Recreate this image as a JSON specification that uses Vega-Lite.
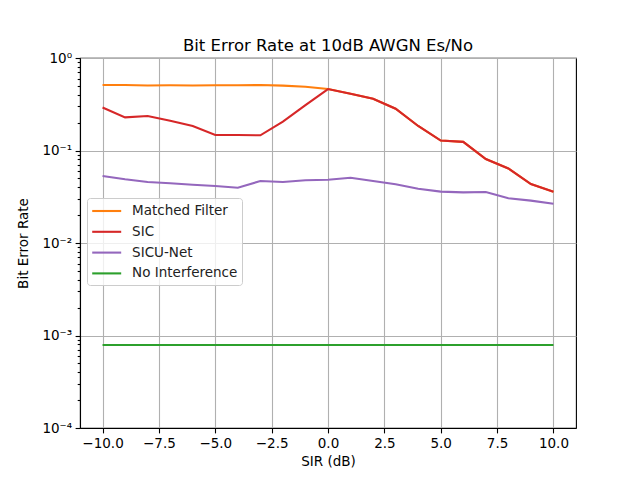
{
  "$schema": "https://vega.github.io/schema/vega-lite/v6.json",
  "autosize": "none",
  "width": 496,
  "height": 370,
  "padding": {"left": 80, "top": 58, "right": 64, "bottom": 52},
  "background": "white",
  "title": {"text": "Bit Error Rate at 10dB AWGN Es/No", "font": "DejaVu Sans", "fontSize": 16.5, "fontWeight": "normal", "color": "black", "anchor": "middle", "baseline": "bottom", "offset": 5, "dy": 24},
  "config": {
    "view": {"stroke": "black", "strokeWidth": 1.1},
    "axis": {"labelFont": "DejaVu Sans", "labelFontSize": 13.5, "labelColor": "black", "titleFont": "DejaVu Sans", "titleFontSize": 13.5, "titleFontWeight": "normal", "titleColor": "black", "domainColor": "black", "tickColor": "black", "gridColor": "#b0b0b0", "gridWidth": 1.1, "tickWidth": 1.1, "domainWidth": 1.1}
  },
  "data": {"values": [
    {"x": -10, "s": "Matched Filter", "v": 0.51},
    {"x": -9, "s": "Matched Filter", "v": 0.51},
    {"x": -8, "s": "Matched Filter", "v": 0.505},
    {"x": -7, "s": "Matched Filter", "v": 0.508},
    {"x": -6, "s": "Matched Filter", "v": 0.505},
    {"x": -5, "s": "Matched Filter", "v": 0.507},
    {"x": -4, "s": "Matched Filter", "v": 0.508},
    {"x": -3, "s": "Matched Filter", "v": 0.51},
    {"x": -2, "s": "Matched Filter", "v": 0.503},
    {"x": -1, "s": "Matched Filter", "v": 0.488},
    {"x": 0, "s": "Matched Filter", "v": 0.462},
    {"x": 1, "s": "Matched Filter", "v": 0.411},
    {"x": 2, "s": "Matched Filter", "v": 0.363},
    {"x": 3, "s": "Matched Filter", "v": 0.283},
    {"x": 4, "s": "Matched Filter", "v": 0.184},
    {"x": 5, "s": "Matched Filter", "v": 0.128},
    {"x": 6, "s": "Matched Filter", "v": 0.124},
    {"x": 7, "s": "Matched Filter", "v": 0.081},
    {"x": 8, "s": "Matched Filter", "v": 0.064},
    {"x": 9, "s": "Matched Filter", "v": 0.0434},
    {"x": 10, "s": "Matched Filter", "v": 0.0359},
    {"x": -10, "s": "SIC", "v": 0.292},
    {"x": -9, "s": "SIC", "v": 0.228},
    {"x": -8, "s": "SIC", "v": 0.236},
    {"x": -7, "s": "SIC", "v": 0.21},
    {"x": -6, "s": "SIC", "v": 0.184},
    {"x": -5, "s": "SIC", "v": 0.147},
    {"x": -4, "s": "SIC", "v": 0.147},
    {"x": -3, "s": "SIC", "v": 0.146},
    {"x": -2, "s": "SIC", "v": 0.205},
    {"x": -1, "s": "SIC", "v": 0.31},
    {"x": 0, "s": "SIC", "v": 0.462},
    {"x": 1, "s": "SIC", "v": 0.411},
    {"x": 2, "s": "SIC", "v": 0.363},
    {"x": 3, "s": "SIC", "v": 0.283},
    {"x": 4, "s": "SIC", "v": 0.184},
    {"x": 5, "s": "SIC", "v": 0.128},
    {"x": 6, "s": "SIC", "v": 0.124},
    {"x": 7, "s": "SIC", "v": 0.081},
    {"x": 8, "s": "SIC", "v": 0.064},
    {"x": 9, "s": "SIC", "v": 0.0434},
    {"x": 10, "s": "SIC", "v": 0.0359},
    {"x": -10, "s": "SICU-Net", "v": 0.053},
    {"x": -9, "s": "SICU-Net", "v": 0.0489},
    {"x": -8, "s": "SICU-Net", "v": 0.0457},
    {"x": -7, "s": "SICU-Net", "v": 0.0442},
    {"x": -6, "s": "SICU-Net", "v": 0.0427},
    {"x": -5, "s": "SICU-Net", "v": 0.0413},
    {"x": -4, "s": "SICU-Net", "v": 0.0396},
    {"x": -3, "s": "SICU-Net", "v": 0.0468},
    {"x": -2, "s": "SICU-Net", "v": 0.0457},
    {"x": -1, "s": "SICU-Net", "v": 0.0476},
    {"x": 0, "s": "SICU-Net", "v": 0.0483},
    {"x": 1, "s": "SICU-Net", "v": 0.0508},
    {"x": 2, "s": "SICU-Net", "v": 0.0468},
    {"x": 3, "s": "SICU-Net", "v": 0.0431},
    {"x": 4, "s": "SICU-Net", "v": 0.0386},
    {"x": 5, "s": "SICU-Net", "v": 0.0359},
    {"x": 6, "s": "SICU-Net", "v": 0.0353},
    {"x": 7, "s": "SICU-Net", "v": 0.0356},
    {"x": 8, "s": "SICU-Net", "v": 0.0304},
    {"x": 9, "s": "SICU-Net", "v": 0.0287},
    {"x": 10, "s": "SICU-Net", "v": 0.0266},
    {"x": -10, "s": "No Interference", "v": 0.00079},
    {"x": -9, "s": "No Interference", "v": 0.00079},
    {"x": -8, "s": "No Interference", "v": 0.00079},
    {"x": -7, "s": "No Interference", "v": 0.00079},
    {"x": -6, "s": "No Interference", "v": 0.00079},
    {"x": -5, "s": "No Interference", "v": 0.00079},
    {"x": -4, "s": "No Interference", "v": 0.00079},
    {"x": -3, "s": "No Interference", "v": 0.00079},
    {"x": -2, "s": "No Interference", "v": 0.00079},
    {"x": -1, "s": "No Interference", "v": 0.00079},
    {"x": 0, "s": "No Interference", "v": 0.00079},
    {"x": 1, "s": "No Interference", "v": 0.00079},
    {"x": 2, "s": "No Interference", "v": 0.00079},
    {"x": 3, "s": "No Interference", "v": 0.00079},
    {"x": 4, "s": "No Interference", "v": 0.00079},
    {"x": 5, "s": "No Interference", "v": 0.00079},
    {"x": 6, "s": "No Interference", "v": 0.00079},
    {"x": 7, "s": "No Interference", "v": 0.00079},
    {"x": 8, "s": "No Interference", "v": 0.00079},
    {"x": 9, "s": "No Interference", "v": 0.00079},
    {"x": 10, "s": "No Interference", "v": 0.00079}
  ]},
  "mark": {"type": "line", "strokeWidth": 2.1, "clip": true},
  "encoding": {
    "x": {"field": "x", "type": "quantitative",
      "scale": {"domain": [-11, 11], "nice": false, "zero": false},
      "axis": {"title": "SIR (dB)", "values": [-10, -7.5, -5, -2.5, 0, 2.5, 5, 7.5, 10], "labelExpr": "replace(format(datum.value, '.1f'), '-', '\u2212')", "tickSize": 4.9, "labelPadding": 3.5, "titlePadding": 5, "labelFlush": false}},
    "y": {"field": "v", "type": "quantitative",
      "scale": {"type": "log", "domain": [0.0001, 1], "nice": false},
      "axis": {"title": "Bit Error Rate", "titlePadding": 11,
        "values": [0.0001, 0.0002, 0.0003, 0.0004, 0.0005, 0.0006, 0.0007, 0.0008, 0.0009, 0.001, 0.002, 0.003, 0.004, 0.005, 0.006, 0.007, 0.008, 0.009, 0.01, 0.02, 0.03, 0.04, 0.05, 0.06, 0.07, 0.08, 0.09, 0.1, 0.2, 0.3, 0.4, 0.5, 0.6, 0.7, 0.8, 0.9, 1],
        "labelExpr": "abs(log(datum.value)/LN10 - round(log(datum.value)/LN10)) < 0.000001 ? (round(log(datum.value)/LN10) == 0 ? '10\u2070' : round(log(datum.value)/LN10) == -1 ? '10\u207b\u00b9' : round(log(datum.value)/LN10) == -2 ? '10\u207b\u00b2' : round(log(datum.value)/LN10) == -3 ? '10\u207b\u00b3' : '10\u207b\u2074') : ''",
        "tickSize": {"condition": {"test": "abs(log(datum.value)/LN10 - round(log(datum.value)/LN10)) < 0.000001", "value": 4.9}, "value": 2.8},
        "gridOpacity": {"condition": {"test": "abs(log(datum.value)/LN10 - round(log(datum.value)/LN10)) < 0.000001", "value": 1}, "value": 0},
        "labelPadding": 3.5, "labelFlush": false}},
    "color": {"field": "s", "type": "nominal",
      "scale": {"domain": ["Matched Filter", "SIC", "SICU-Net", "No Interference"], "range": ["#ff7f0e", "#d62728", "#9467bd", "#2ca02c"]},
      "legend": {"title": null, "orient": "none", "legendX": 7, "legendY": 140, "symbolType": "M-2,0H2", "symbolSize": 210, "symbolStrokeWidth": 2.1, "symbolOffset": 6.7, "labelFont": "DejaVu Sans", "labelFontSize": 13.5, "labelColor": "#222", "labelOffset": 16.9, "rowPadding": 5.8, "padding": 4.5, "strokeColor": "#cccccc", "fillColor": "rgba(255,255,255,0.8)", "cornerRadius": 3}}
  }
}
